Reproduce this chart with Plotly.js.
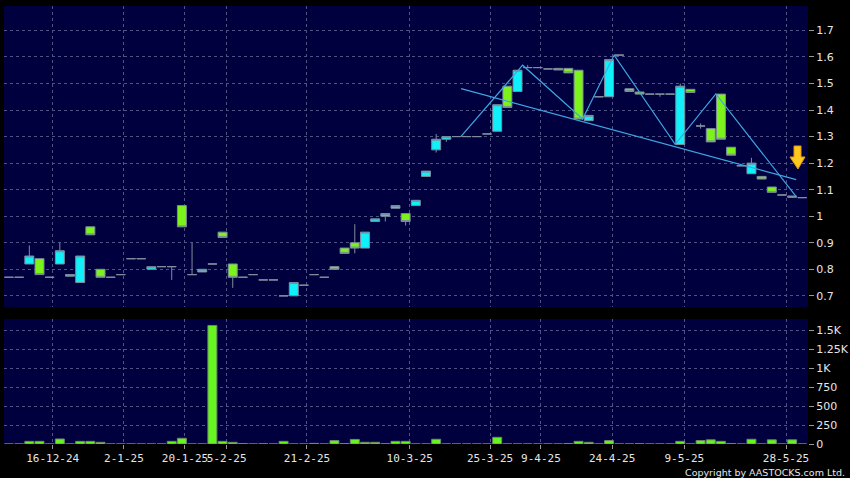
<!DOCTYPE html>
<html>
<head>
<meta charset="utf-8">
<script src="https://cdn.plot.ly/plotly-3.0.1.min.js"></script>
<style>
html,body{margin:0;padding:0;background:#000;}
#chart{width:850px;height:478px;}
</style>
</head>
<body>
<div id="chart"></div>
<script>
// Bar slots (trading sessions) 0..78, OHLC
const openP  = [0.77,0.77,0.82,0.84,0.77,0.82,0.774,0.75,0.96,0.80,0.77,0.78,0.84,0.84,0.80,0.81,0.81,1.04,0.78,0.79,
                0.82,0.94,0.82,0.77,0.78,0.76,0.76,0.70,0.70,0.74,0.78,0.77,0.81,0.88,0.90,0.88,0.98,1.00,1.03,1.01,
                1.04,1.15,1.25,1.29,1.30,1.30,1.30,1.31,1.32,1.49,1.47,1.56,1.56,1.555,1.557,1.557,1.55,1.36,1.45,1.45,
                1.607,1.48,1.468,1.46,1.46,1.46,1.27,1.478,1.34,1.33,1.46,1.26,1.19,1.16,1.15,1.11,1.08,1.071,1.07];
const highP  = [0.77,0.77,0.89,0.84,0.77,0.90,0.78,0.85,0.96,0.80,0.77,0.78,0.84,0.84,0.81,0.81,0.81,1.04,0.90,0.80,
                0.82,0.94,0.82,0.77,0.78,0.76,0.76,0.70,0.75,0.74,0.78,0.77,0.81,0.88,0.97,0.94,0.99,1.01,1.04,1.01,
                1.06,1.17,1.31,1.30,1.30,1.30,1.30,1.31,1.42,1.49,1.55,1.57,1.56,1.555,1.557,1.557,1.55,1.38,1.45,1.59,
                1.607,1.48,1.468,1.46,1.46,1.46,1.50,1.478,1.35,1.33,1.46,1.26,1.19,1.22,1.15,1.11,1.08,1.076,1.07];
const lowP   = [0.77,0.77,0.82,0.78,0.77,0.82,0.774,0.75,0.93,0.77,0.77,0.78,0.84,0.84,0.80,0.81,0.76,0.96,0.78,0.79,
                0.82,0.92,0.73,0.77,0.78,0.76,0.76,0.70,0.70,0.74,0.78,0.77,0.80,0.86,0.86,0.88,0.98,0.98,1.03,0.965,
                1.04,1.15,1.24,1.28,1.30,1.30,1.30,1.31,1.32,1.41,1.47,1.56,1.56,1.555,1.551,1.54,1.366,1.36,1.45,1.45,
                1.607,1.47,1.46,1.46,1.45,1.46,1.27,1.466,1.33,1.28,1.29,1.23,1.19,1.16,1.14,1.09,1.08,1.071,1.07];
const closeP = [0.77,0.77,0.85,0.78,0.77,0.87,0.78,0.85,0.93,0.77,0.77,0.78,0.84,0.84,0.81,0.81,0.81,0.96,0.78,0.80,
                0.82,0.92,0.77,0.77,0.78,0.76,0.76,0.70,0.75,0.74,0.78,0.77,0.80,0.86,0.88,0.94,0.99,1.01,1.04,0.98,
                1.06,1.17,1.29,1.30,1.30,1.30,1.30,1.31,1.42,1.41,1.55,1.56,1.56,1.555,1.551,1.54,1.366,1.38,1.45,1.59,
                1.607,1.47,1.46,1.46,1.46,1.46,1.49,1.466,1.34,1.28,1.29,1.23,1.19,1.20,1.14,1.09,1.08,1.076,1.07];
const volume = [0,0,35,35,0,66,0,35,35,22,0,0,0,0,0,0,35,75,0,0,
                1560,35,22,5,0,3,0,35,0,0,8,0,45,5,60,22,22,3,35,35,
                0,0,62,0,0,0,0,0,88,0,0,0,0,0,0,5,35,22,0,45,
                0,0,3,0,0,0,35,0,45,55,35,5,0,62,0,55,0,55,0];

// Trend lines (slot position, price)
const trendX = [44.45, 77.4];
const trendY = [1.481, 1.138];
const zigX = [44.45, 50.5, 56.4, 59.5, 65.5, 69.5, 77.4];
const zigY = [1.301, 1.569, 1.366, 1.607, 1.271, 1.461, 1.074];

// X tick labels and their slot positions
const tickLabels = ['16-12-24','2-1-25','20-1-25','5-2-25','21-2-25','10-3-25','25-3-25','9-4-25','24-4-25','9-5-25','28-5-25'];
const tickPos = [4.3, 11.3, 17.3, 21.4, 29.3, 39.4, 47.3, 52.3, 59.3, 66.4, 76.4];

const priceTicks = [0.7,0.8,0.9,1.0,1.1,1.2,1.3,1.4,1.5,1.6,1.7];
const priceTickText = ['0.7','0.8','0.9','1','1.1','1.2','1.3','1.4','1.5','1.6','1.7'];
const volTicks = [0,250,500,750,1000,1250,1500];
const volTickText = ['0','250','500','750','1K','1.25K','1.5K'];

const slots = openP.map((_, i) => i);

const CYAN = '#10F0FA', GREEN = '#7CF41C', EDGE = '#7E8C9C';
const GRID = '#4E5385';
const FONT = {family:'DejaVu Sans, Verdana, sans-serif', size:11, color:'#E6E6E6'};
const XFONT = {family:'DejaVu Sans Mono, monospace', size:11, color:'#E6E6E6'};

const traces = [
  {type:'candlestick', x:slots, open:openP, high:highP, low:lowP, close:closeP,
   xaxis:'x', yaxis:'y', whiskerwidth:0, hoverinfo:'skip',
   increasing:{fillcolor:CYAN, line:{color:EDGE, width:1}},
   decreasing:{fillcolor:GREEN, line:{color:EDGE, width:1}}},
  {type:'scatter', mode:'lines', x:trendX, y:trendY, xaxis:'x', yaxis:'y',
   line:{color:'#3EA6E2', width:1.2}, hoverinfo:'skip'},
  {type:'scatter', mode:'lines', x:zigX, y:zigY, xaxis:'x', yaxis:'y',
   line:{color:'#3EA6E2', width:1.2}, hoverinfo:'skip'},
  {type:'bar', x:slots, y:volume, xaxis:'x2', yaxis:'y2', width:0.88,
   marker:{color:'#66F51E', line:{color:'#6F8A6A', width:1}}, hoverinfo:'skip'}
];

const xr = [-0.49, 78.56];
const layout = {
  width:850, height:478,
  paper_bgcolor:'#000000', plot_bgcolor:'#00003F',
  margin:{l:4, r:42, t:6, b:34},
  showlegend:false, boxgap:0.12, boxgroupgap:0, bargap:0,
  font:FONT,
  xaxis:{domain:[0,1], range:xr, anchor:'y', tickvals:tickPos, showticklabels:false,
         ticks:'', showgrid:true, gridcolor:GRID, griddash:'dot', gridwidth:1,
         zeroline:false, showline:false, rangeslider:{visible:false}, fixedrange:true},
  yaxis:{domain:[0.3128,1], range:[0.658,1.792], side:'right', anchor:'x',
         tickvals:priceTicks, ticktext:priceTickText, ticks:'outside', ticklen:5, tickcolor:'#9A9A9A',
         showgrid:true, gridcolor:GRID, griddash:'dot', gridwidth:1, zeroline:false, showline:false,
         tickfont:FONT, fixedrange:true},
  xaxis2:{domain:[0,1], range:xr, anchor:'y2', tickvals:tickPos, ticktext:tickLabels, tickangle:0,
          ticks:'outside', ticklen:4, tickcolor:'#9A9A9A', showgrid:true, gridcolor:GRID, griddash:'dot',
          gridwidth:1, zeroline:false, showline:false, tickfont:XFONT, fixedrange:true},
  yaxis2:{domain:[0,0.2854], range:[0,1645], side:'right', anchor:'x2',
          tickvals:volTicks, ticktext:volTickText, ticks:'outside', ticklen:5, tickcolor:'#9A9A9A',
          showgrid:true, gridcolor:GRID, griddash:'dot', gridwidth:1, zeroline:false, showline:false,
          tickfont:FONT, fixedrange:true},
  shapes:[
    {type:'path', xref:'paper', yref:'paper',
     path:'M 0.9826,0.6804 L 0.9913,0.6804 L 0.9913,0.6553 L 0.9963,0.6553 L 0.9875,0.6279 L 0.9776,0.6553 L 0.9826,0.6553 Z',
     fillcolor:'#FFC81E', line:{color:'#E09A10', width:1}}
  ],
  annotations:[
    {text:'Copyright by AASTOCKS.com Ltd.', xref:'paper', yref:'paper', x:1.0486, y:-0.064,
     xanchor:'right', yanchor:'middle', showarrow:false,
     font:{family:'DejaVu Sans, Verdana, sans-serif', size:9.5, color:'#E6E6E6'}}
  ]
};

Plotly.newPlot('chart', traces, layout, {displayModeBar:false, staticPlot:true});
</script>
</body>
</html>
